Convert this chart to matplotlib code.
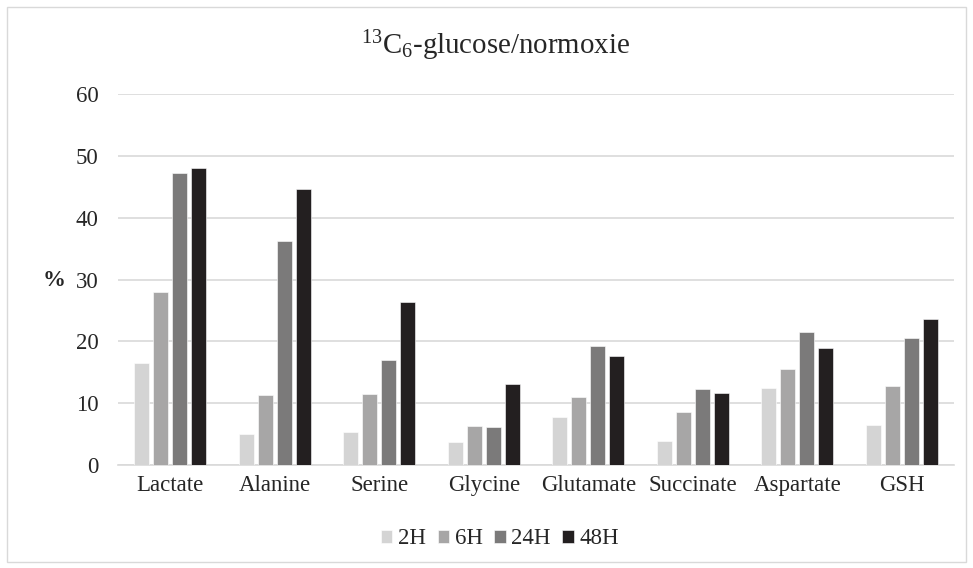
import numpy as np
import matplotlib.pyplot as plt
from matplotlib.patches import Rectangle

plt.rcParams['font.family'] = ['Liberation Serif', 'DejaVu Serif']
plt.rcParams['mathtext.fontset'] = 'custom'
plt.rcParams['mathtext.rm'] = 'Liberation Serif'
plt.rcParams['mathtext.it'] = 'Liberation Serif:italic'
plt.rcParams['mathtext.bf'] = 'Liberation Serif:bold'

categories = ["Lactate", "Alanine", "Serine", "Glycine", "Glutamate", "Succinate", "Aspartate", "GSH"]
series_names = ["2H", "6H", "24H", "48H"]
v_2h = [16.5, 5.0, 5.4, 3.7, 7.7, 3.9, 12.4, 6.5]
v_6h = [27.9, 11.3, 11.5, 6.3, 11.0, 8.5, 15.6, 12.8]
v_24h = [47.2, 36.3, 17.0, 6.2, 19.2, 12.3, 21.5, 20.6]
v_48h = [48.1, 44.7, 26.3, 13.1, 17.6, 11.7, 19.0, 23.6]
colors = ["#d4d4d4", "#a7a6a6", "#7b7a7a", "#231f20"]

fig = plt.figure(figsize=(9.73, 5.68), dpi=100)
ax = fig.add_axes([118/973, 1 - 465/568, (954 - 118)/973, (465 - 94)/568])

x = np.arange(len(categories))
bw = 0.145
step = 0.182
for i, (vals, name) in enumerate(zip([v_2h, v_6h, v_24h, v_48h], series_names)):
    ax.bar(x + (i - 1.5) * step, vals, width=bw, color=colors[i], label=name,
           edgecolor='white', linewidth=0.4, zorder=3)

ax.set_xlim(-0.5, len(categories) - 0.5)
ax.set_ylim(0, 60)
ax.set_yticks(range(0, 61, 10))
ax.set_xticks(x)
ax.set_xticklabels(categories)
ax.yaxis.grid(True, color='#d9d9d9', linewidth=1.2, zorder=0)
ax.tick_params(axis='both', length=0, labelsize=16.5, colors='#262626')
ax.tick_params(axis='x', pad=7)
ax.tick_params(axis='y', pad=14)
for s in ['top', 'right', 'left']:
    ax.spines[s].set_visible(False)
ax.spines['bottom'].set_color('#d9d9d9')
ax.spines['bottom'].set_linewidth(1.2)

fig.text(54/973, 1 - 280/568, '%', fontsize=16.5, fontweight='bold', ha='center', va='center', color='#262626')
fig.text(496/973, 1 - 46/568, r'$^{13}$C$_{6}$-glucose/normoxie', fontsize=20.8, ha='center', va='center',
         color='#262626')

fig.legend(loc='center', bbox_to_anchor=(500/973, 1 - 539/568), ncol=4, frameon=False, fontsize=16.5,
           handlelength=0.5, handleheight=0.5, handletextpad=0.25, columnspacing=0.5, labelcolor='#262626')

fig.patches.append(Rectangle((7/973, 6/568), 959/973, 555/568, transform=fig.transFigure,
                             fill=False, edgecolor='#d9d9d9', linewidth=1))

fig.savefig('out.png', dpi=100)
